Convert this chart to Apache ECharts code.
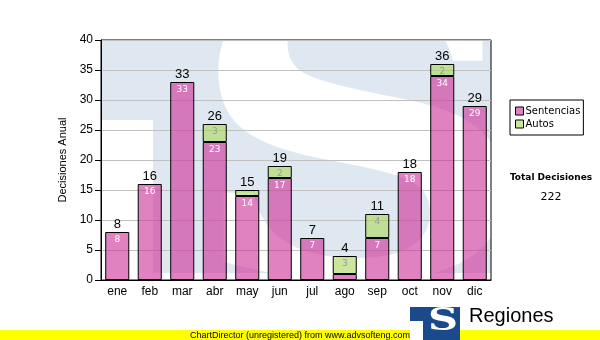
<!DOCTYPE html>
<html><head><meta charset="utf-8">
<script src="https://cdn.jsdelivr.net/npm/echarts@6/dist/echarts.min.js"></script>
<style>html,body{margin:0;padding:0;background:#fff}#c{width:600px;height:340px}</style>
</head><body><div id="c"></div>
<script>
var months = ['ene','feb','mar','abr','may','jun','jul','ago','sep','oct','nov','dic'];
var sentencias = [8,16,33,23,14,17,7,1,7,18,34,29];
var autos = [0,0,0,3,1,2,0,3,4,0,2,0];
var yTicks = [0,5,10,15,20,25,30,35,40];
var totals = months.map(function(m,i){return sentencias[i]+autos[i];});
var grandTotal = totals.reduce(function(a,b){return a+b;},0);

var chart = echarts.init(document.getElementById('c'), null, {renderer:'canvas'});
var G = {left:101, top:40, width:390, height:240};
var option = {
  animation:false,
  backgroundColor:'#ffffff',
  grid:{left:G.left, top:G.top, width:G.width, height:G.height, show:true, borderColor:'#000', borderWidth:1, backgroundColor:'transparent'},
  legend:{
    data:['Sentencias','Autos'], orient:'vertical', left:510, top:100,
    itemWidth:8, itemHeight:8, itemGap:3, icon:'rect',
    padding:[6,3,6,5], borderColor:'#000', borderWidth:1, backgroundColor:'#fff',
    textStyle:{fontFamily:'DejaVu Sans', fontSize:10, color:'#000', padding:[0,0,0,-3]},
    itemStyle:{borderColor:'#000', borderWidth:1}
  },
  xAxis:{
    type:'category', data:months,
    axisLine:{lineStyle:{color:'#000'}},
    axisTick:{alignWithLabel:true, length:3, lineStyle:{color:'#000'}},
    axisLabel:{fontFamily:'Liberation Sans', fontSize:12, color:'#000', margin:6}
  },
  yAxis:{
    type:'value', min:yTicks[0], max:yTicks[yTicks.length-1], interval:5,
    name:'Decisiones Anual', nameLocation:'middle', nameGap:26,
    nameTextStyle:{fontFamily:'Liberation Sans', fontSize:11, color:'#000'},
    axisLine:{show:true, lineStyle:{color:'#000'}},
    axisTick:{show:true, length:6, lineStyle:{color:'#000'}},
    axisLabel:{fontFamily:'Liberation Sans', fontSize:12, color:'#000', margin:8},
    splitLine:{lineStyle:{color:'#c0c0c0'}}
  },
  graphic:[
    {type:'rect', z:-10, silent:true, shape:{x:G.left, y:G.top, width:G.width, height:233}, style:{fill:'#dfe8f1'}},
    {type:'rect', z:-9, silent:true, shape:{x:G.left, y:120, width:52, height:160}, style:{fill:'#ffffff'}},
    {type:'text', z:-9, silent:true, x:360, y:172, scaleX:1.2, scaleY:1,
      style:{text:'S', font:'bold 400px "DejaVu Serif"', fill:'#ffffff', textAlign:'center', textVerticalAlign:'middle'}},
    {type:'text', silent:true, z:5, style:{text:'Total Decisiones', x:551, y:178, font:'bold 9px "DejaVu Sans"', fill:'#000', textAlign:'center', textVerticalAlign:'middle'}},
    {type:'text', silent:true, z:5, style:{text:String(grandTotal), x:551, y:197, font:'11px "DejaVu Sans"', fill:'#000', textAlign:'center', textVerticalAlign:'middle'}},
    {type:'rect', silent:true, z:20, shape:{x:0, y:330, width:600, height:10}, style:{fill:'#ffff00'}},
    {type:'text', silent:true, z:21, style:{text:'ChartDirector (unregistered) from www.advsofteng.com', x:300, y:335.5, font:'9px "Liberation Sans"', fill:'#000', textAlign:'center', textVerticalAlign:'middle'}},
    {type:'rect', silent:true, z:22, shape:{x:410, y:307, width:50, height:33}, style:{fill:'#1b4a8c'}},
    {type:'rect', silent:true, z:23, shape:{x:410, y:321, width:13, height:19}, style:{fill:'#ffffff'}},
    {type:'text', silent:true, z:23, x:443, y:322, scaleX:1.3,
      style:{text:'S', font:'bold 32px "DejaVu Serif"', fill:'#ffffff', textAlign:'center', textVerticalAlign:'middle'}},
    {type:'text', silent:true, z:22, style:{text:'Regiones', x:469, y:316, font:'20px "Liberation Sans"', fill:'#000', textAlign:'left', textVerticalAlign:'middle'}},
    {type:'text', silent:true, z:19, style:{text:'Tribunal Supremo de Justicia', x:469, y:336, font:'9px "Liberation Sans"', fill:'#000', textAlign:'left', textVerticalAlign:'middle'}}
  ],
  series:[
    {name:'Sentencias', type:'bar', stack:'t', data:sentencias, barCategoryGap:'26%',
      itemStyle:{color:'rgba(205,52,153,0.62)', borderColor:'#000', borderWidth:1},
      label:{show:true, position:'insideTop', distance:3, color:'#fff', fontFamily:'DejaVu Sans', fontSize:9,
        formatter:function(p){return p.value>=2?p.value:'';}}},
    {name:'Autos', type:'bar', stack:'t', data:autos.map(function(v){return v>0?v:null;}),
      itemStyle:{color:'rgba(170,215,90,0.6)', borderColor:'#000', borderWidth:1},
      label:{show:true, position:'insideTop', distance:3, color:'#999', fontFamily:'DejaVu Sans', fontSize:9,
        formatter:function(p){return p.value>=2?p.value:'';}}},
    {name:'Total', type:'bar', stack:'t', data:totals.map(function(){return 0;}),
      itemStyle:{color:'transparent', borderWidth:0},
      label:{show:true, position:'top', distance:1, color:'#000', fontFamily:'Liberation Sans', fontSize:13,
        formatter:function(p){return totals[p.dataIndex];}}}
  ]
};
chart.setOption(option);
</script></body></html>
